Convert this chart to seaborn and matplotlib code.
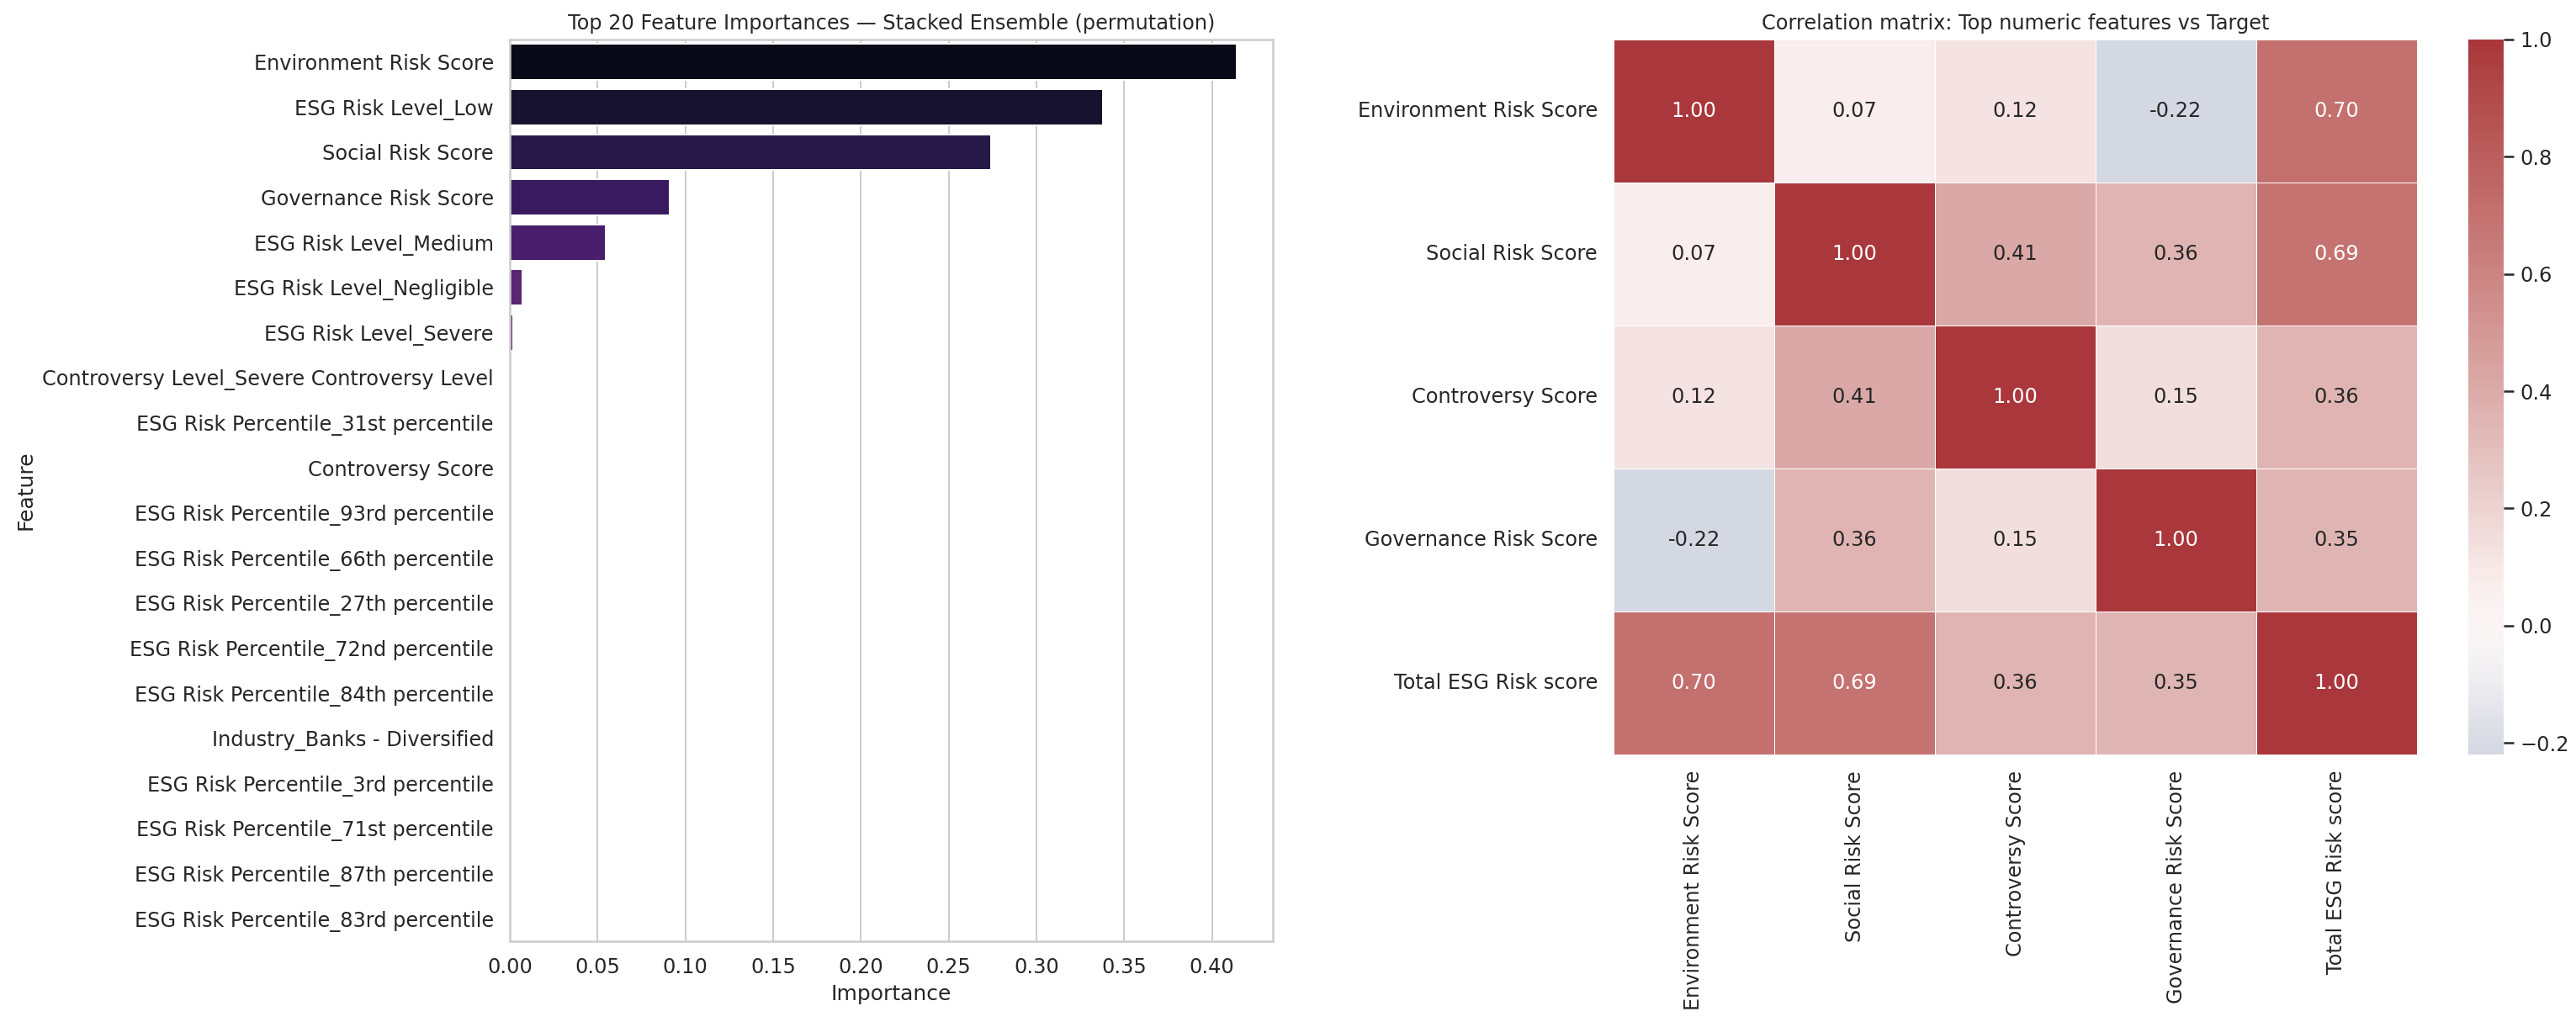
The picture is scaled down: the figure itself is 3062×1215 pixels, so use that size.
import numpy as np
import pandas as pd
import matplotlib
matplotlib.use("Agg")
import matplotlib.pyplot as plt
import seaborn as sns

features = [
    "Environment Risk Score",
    "ESG Risk Level_Low",
    "Social Risk Score",
    "Governance Risk Score",
    "ESG Risk Level_Medium",
    "ESG Risk Level_Negligible",
    "ESG Risk Level_Severe",
    "Controversy Level_Severe Controversy Level",
    "ESG Risk Percentile_31st percentile",
    "Controversy Score",
    "ESG Risk Percentile_93rd percentile",
    "ESG Risk Percentile_66th percentile",
    "ESG Risk Percentile_27th percentile",
    "ESG Risk Percentile_72nd percentile",
    "ESG Risk Percentile_84th percentile",
    "Industry_Banks - Diversified",
    "ESG Risk Percentile_3rd percentile",
    "ESG Risk Percentile_71st percentile",
    "ESG Risk Percentile_87th percentile",
    "ESG Risk Percentile_83rd percentile",
]
importances = [
    0.414, 0.338, 0.274, 0.091, 0.0546, 0.0072, 0.0019, 0.0009,
    0.0004, 0.0003, 0.0003, 0.0002, 0.0002, 0.0002, 0.0001,
    0.0001, 0.0001, 0.0001, 0.0001, 0.00005,
]

corr_labels = [
    "Environment Risk Score",
    "Social Risk Score",
    "Controversy Score",
    "Governance Risk Score",
    "Total ESG Risk score",
]
corr_values = [
    [1.00, 0.07, 0.12, -0.22, 0.70],
    [0.07, 1.00, 0.41, 0.36, 0.69],
    [0.12, 0.41, 1.00, 0.15, 0.36],
    [-0.22, 0.36, 0.15, 1.00, 0.35],
    [0.70, 0.69, 0.36, 0.35, 1.00],
]

sns.set_theme(style="whitegrid", context="notebook")
plt.rcParams.update({
    "xtick.labelsize": 12,
    "ytick.labelsize": 12,
    "axes.labelsize": 12.5,
    "axes.titlesize": 12,
})

W, H = 3062, 1215
dpi = 144
fig = plt.figure(figsize=(W / dpi, H / dpi), dpi=dpi)

def frac(x0, y0, x1, y1):
    return [x0 / W, 1 - y1 / H, (x1 - x0) / W, (y1 - y0) / H]

ax1 = fig.add_axes(frac(606, 47, 1513, 1119))
ax2 = fig.add_axes(frac(1918, 47, 2873, 897))
cax = fig.add_axes(frac(2934, 47, 2976, 897))

df = pd.DataFrame({"Feature": features, "Importance": importances})
sns.barplot(data=df, x="Importance", y="Feature", hue="Feature",
            palette="magma", legend=False, ax=ax1)
ax1.set_title("Top 20 Feature Importances \u2014 Stacked Ensemble (permutation)")
ax1.set_xlabel("Importance")
ax1.set_ylabel("Feature")

corr = pd.DataFrame(corr_values, index=corr_labels, columns=corr_labels)
sns.heatmap(corr, annot=True, fmt=".2f", cmap="vlag", center=0,
            annot_kws={"fontsize": 12},
            linewidths=0.5, linecolor="white", ax=ax2, cbar_ax=cax)
ax2.set_title("Correlation matrix: Top numeric features vs Target")
ax2.tick_params(axis="x", rotation=90)
ax2.tick_params(axis="y", rotation=0)

fig.savefig("out.png", dpi=dpi)
